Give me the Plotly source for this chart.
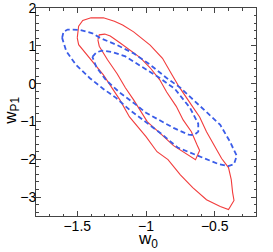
import plotly.graph_objects as go

# Outer (95%) and inner (68%) contours, red solid set
red_outer_w0 = [-1.50, -1.49, -1.46, -1.40, -1.31, -1.23, -1.17, -1.09, -0.97, -0.88, -0.81, -0.76,
                -0.68, -0.61, -0.56, -0.50, -0.45, -0.40, -0.38, -0.37, -0.36, -0.40, -0.46, -0.56,
                -0.66, -0.75, -0.84, -0.92, -1.00, -1.12, -1.19, -1.31, -1.41, -1.49, -1.50]
red_outer_wp1 = [1.21, 1.52, 1.67, 1.74, 1.74, 1.65, 1.55, 1.37, 1.02, 0.67, 0.23, -0.08,
                 -0.51, -0.88, -1.27, -1.67, -1.98, -2.22, -2.54, -2.88, -3.09, -3.33, -3.25, -3.07,
                 -2.75, -2.41, -2.01, -1.80, -1.40, -0.88, -0.43, 0.23, 0.68, 1.03, 1.21]

red_inner_w0 = [-1.35, -1.34, -1.30, -1.26, -1.19, -1.12, -1.04, -0.97, -0.90, -0.85, -0.78, -0.73,
                -0.67, -0.63, -0.61, -0.64, -0.70, -0.80, -0.90, -0.99, -1.09, -1.15, -1.21, -1.28,
                -1.34, -1.35]
red_inner_wp1 = [1.16, 1.29, 1.31, 1.26, 1.08, 0.89, 0.68, 0.42, 0.10, -0.22, -0.60, -0.96,
                 -1.27, -1.61, -1.77, -2.01, -1.88, -1.64, -1.30, -1.01, -0.43, -0.11, 0.26, 0.63,
                 0.99, 1.16]

# Blue dashed set
blue_outer_w0 = [-1.61, -1.60, -1.57, -1.48, -1.39, -1.33, -1.21, -1.09, -0.97, -0.85, -0.75, -0.59,
                 -0.46, -0.39, -0.34, -0.36, -0.40, -0.47, -0.64, -0.77, -0.88, -1.02, -1.12, -1.22,
                 -1.31, -1.41, -1.51, -1.58, -1.61]
blue_outer_wp1 = [1.21, 1.37, 1.43, 1.42, 1.33, 1.20, 1.02, 0.80, 0.50, 0.15, -0.11, -0.65,
                  -1.09, -1.53, -1.91, -2.13, -2.18, -2.13, -1.89, -1.69, -1.35, -0.96, -0.69, -0.37,
                  -0.14, 0.15, 0.50, 0.86, 1.21]

blue_inner_w0 = [-1.39, -1.36, -1.32, -1.25, -1.15, -1.04, -0.90, -0.79, -0.68, -0.62, -0.62, -0.65,
                 -0.69, -0.80, -0.92, -1.00, -1.09, -1.19, -1.29, -1.36, -1.39]
blue_inner_wp1 = [0.71, 0.83, 0.87, 0.84, 0.72, 0.47, 0.15, -0.14, -0.64, -1.06, -1.27, -1.36,
                  -1.35, -1.17, -0.93, -0.77, -0.51, -0.24, 0.09, 0.43, 0.71]

x_range = [-1.8, -0.2]
y_range = [-3.5, 2.0]
x_ticks = [-1.5, -1.0, -0.5]
x_ticktext = ["\u22121.5", "\u22121", "\u22120.5"]
y_ticks = [-3, -2, -1, 0, 1, 2]
y_ticktext = ["\u22123", "\u22122", "\u22121", "0", "1", "2"]

RED = "#f23c3c"
BLUE = "#3a5ce8"
AX = "#444444"
FONT = "Liberation Sans, Arial, sans-serif"

fig = go.Figure()
for xs, ys in [(red_outer_w0, red_outer_wp1), (red_inner_w0, red_inner_wp1)]:
    fig.add_trace(go.Scatter(x=xs, y=ys, mode="lines", line=dict(color=RED, width=1.1),
                             showlegend=False, hoverinfo="skip"))
for xs, ys in [(blue_outer_w0, blue_outer_wp1), (blue_inner_w0, blue_inner_wp1)]:
    fig.add_trace(go.Scatter(x=xs, y=ys, mode="lines",
                             line=dict(color=BLUE, width=1.8, dash="5px,3px"),
                             showlegend=False, hoverinfo="skip"))

axis_common = dict(
    showgrid=False, zeroline=False, showline=True, linecolor=AX, linewidth=1,
    mirror="ticks", ticks="inside", ticklen=5, tickcolor=AX, tickwidth=1,
    tickfont=dict(family=FONT, size=14, color="black"), automargin=False,
    ticklabeloverflow="allow",
)
fig.update_xaxes(range=x_range, tickvals=x_ticks, ticktext=x_ticktext, ticklabelstandoff=-3,
                 minor=dict(dtick=0.1, tick0=0, ticks="inside", ticklen=2.5, tickcolor=AX),
                 **axis_common)
fig.update_yaxes(range=y_range, tickvals=y_ticks, ticktext=y_ticktext, ticklabelstandoff=-4,
                 minor=dict(dtick=0.2, tick0=0, ticks="inside", ticklen=2.5, tickcolor=AX),
                 **axis_common)

fig.update_layout(
    width=273, height=252,
    margin=dict(l=36, r=17, t=8, b=35.5, autoexpand=False),
    paper_bgcolor="white", plot_bgcolor="white",
    annotations=[
        dict(text="w<sub>0</sub>", xref="paper", yref="paper", x=0.51, y=-0.115,
             xanchor="center", yanchor="middle", showarrow=False,
             font=dict(family=FONT, size=17, color="black")),
        dict(text="w<sub>P1</sub>", xref="paper", yref="paper", x=-0.11, y=0.505,
             xanchor="center", yanchor="middle", showarrow=False, textangle=-90,
             font=dict(family=FONT, size=17, color="black")),
    ],
)

fig.write_html("out.html", config={"displayModeBar": False},
               post_script="document.body.style.margin='0px';document.body.style.overflow='hidden';")
